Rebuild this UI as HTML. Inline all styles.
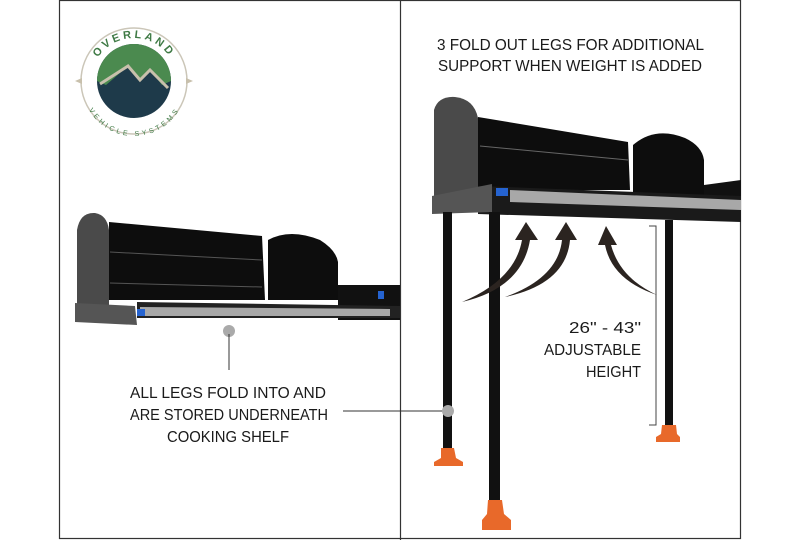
<!DOCTYPE html><html><head><style>
body{margin:0;background:#fff;width:800px;height:540px;overflow:hidden}
text{font-family:"Liberation Sans Narrow","Liberation Sans",sans-serif;fill:#1a1a1a;font-size:16px}
</style></head><body>
<svg width="800" height="540" viewBox="0 0 800 540">
<defs>
<path id="arcTop" d="M91,81 A43,43 0 0 1 177,81"/>
<path id="arcBot" d="M89,84 A45,45 0 0 0 179,84"/>
</defs>
<rect width="800" height="540" fill="#fff"/>
<rect x="59.5" y="0.5" width="681" height="538" fill="none" stroke="#333" stroke-width="1.2"/>
<line x1="400.5" y1="0" x2="400.5" y2="540" stroke="#333" stroke-width="1.2"/>
<!-- logo -->
<circle cx="134" cy="81" r="53" fill="#fff" stroke="#cbc6b8" stroke-width="1.5"/>
<circle cx="134" cy="81" r="37" fill="#1e3a4a"/>
<path d="M97,81 A37,37 0 0 1 171,81 L162,85 L150,70 L140,80 L128,66 L106,85 Z" fill="#4b8a4f"/>
<path d="M100,84 L128,66 L140,80 L150,70 L168,88" fill="none" stroke="#c8c0ac" stroke-width="3"/>
<text style="font-size:11px;fill:#3f7a45;font-weight:bold;letter-spacing:3px"><textPath href="#arcTop" startOffset="50%" text-anchor="middle">OVERLAND</textPath></text>
<text style="font-size:7px;fill:#3f7a45;letter-spacing:2px" dy="7"><textPath href="#arcBot" startOffset="50%" text-anchor="middle">VEHICLE SYSTEMS</textPath></text>
<polygon points="75,81 82,78 82,84" fill="#c8c0ac"/><polygon points="193,81 186,78 186,84" fill="#c8c0ac"/>
<!-- left shelf -->
<path d="M77,230 Q80,212 95,213 Q107,215 109,230 L109,305 L77,305 Z" fill="#4a4a4a"/>
<path d="M109,222 L262,236 L265,300 L109,300 Z" fill="#0d0d0d"/>
<line x1="110" y1="252" x2="262" y2="260" stroke="#555" stroke-width="1"/>
<line x1="110" y1="283" x2="262" y2="287" stroke="#555" stroke-width="1"/>
<path d="M268,240 Q290,228 320,240 Q336,250 338,262 L338,300 L268,300 Z" fill="#0d0d0d"/>
<path d="M338,285 L400,285 L400,320 L338,320 Z" fill="#111"/>
<path d="M137,302 L400,306 L400,318 L137,318 Z" fill="#222"/>
<path d="M140,307 L390,309 L390,316 L140,316 Z" fill="#a8a8a8"/>
<rect x="137" y="309" width="8" height="7" fill="#2563d0"/>
<rect x="378" y="291" width="6" height="8" fill="#2563d0"/>
<path d="M75,303 L135,306 L137,325 L75,322 Z" fill="#555"/>
<circle cx="229" cy="331" r="6" fill="#aaa"/>
<line x1="229" y1="334" x2="229" y2="370" stroke="#333" stroke-width="1"/>
<text x="130" y="398" textLength="196" lengthAdjust="spacingAndGlyphs">ALL LEGS FOLD INTO AND</text>
<text x="130" y="420" textLength="198" lengthAdjust="spacingAndGlyphs">ARE STORED UNDERNEATH</text>
<text x="167" y="442" textLength="122" lengthAdjust="spacingAndGlyphs">COOKING SHELF</text>
<line x1="343" y1="411" x2="446" y2="411" stroke="#333" stroke-width="1"/>
<!-- right -->
<text x="437" y="50" textLength="267" lengthAdjust="spacingAndGlyphs">3 FOLD OUT LEGS FOR ADDITIONAL</text>
<text x="438" y="71" textLength="264" lengthAdjust="spacingAndGlyphs">SUPPORT WHEN WEIGHT IS ADDED</text>
<path d="M434,110 Q438,96 455,97 Q474,99 478,118 L478,200 L434,200 Z" fill="#4a4a4a"/>
<path d="M478,117 L628,142 L630,190 L478,190 Z" fill="#0d0d0d"/>
<line x1="480" y1="146" x2="628" y2="160" stroke="#666" stroke-width="1"/>
<path d="M633,145 Q655,126 685,138 Q702,146 704,160 L704,195 L633,195 Z" fill="#0d0d0d"/>
<path d="M704,185 L741,180 L741,200 L704,200 Z" fill="#111"/>
<path d="M478,186 L741,196 L741,222 L478,214 Z" fill="#1a1a1a"/>
<path d="M510,190 L741,200 L741,210 L510,202 Z" fill="#a8a8a8"/>
<rect x="496" y="188" width="12" height="8" fill="#2563d0"/>
<path d="M432,196 L492,184 L492,212 L432,214 Z" fill="#555"/>
<rect x="443" y="212" width="9" height="240" fill="#111"/>
<rect x="489" y="212" width="11" height="296" fill="#111"/>
<rect x="665" y="220" width="8" height="212" fill="#111"/>
<path d="M441,448 L454,448 L456,458 L463,462 L463,466 L434,466 L434,462 L441,458 Z" fill="#e8692a"/>
<path d="M488,500 L502,500 L504,514 L511,520 L511,530 L482,530 L482,520 L487,514 Z" fill="#e8692a"/>
<path d="M662,425 L676,425 L677,434 L680,437 L680,442 L656,442 L656,437 L661,434 Z" fill="#e8692a"/>
<circle cx="448" cy="411" r="6" fill="#aaa"/>
<g fill="#2b2420">
<path d="M462,302 Q515,280 522,240 L515,240 L526,222 L538,240 L530,240 Q522,288 462,302 Z"/>
<path d="M505,297 Q558,278 562,240 L555,240 L566,222 L577,240 L570,240 Q566,284 505,297 Z"/>
<path d="M657,295 Q612,280 605,245 L598,245 L606,226 L617,245 L611,245 Q620,278 657,295 Z"/>
</g>
<polyline points="649,226 656,226 656,425 649,425" fill="none" stroke="#444" stroke-width="1"/>
<text x="569" y="333" textLength="72" lengthAdjust="spacingAndGlyphs">26" - 43"</text>
<text x="544" y="355" textLength="97" lengthAdjust="spacingAndGlyphs">ADJUSTABLE</text>
<text x="586" y="377" textLength="55" lengthAdjust="spacingAndGlyphs">HEIGHT</text>
</svg>
</body></html>
